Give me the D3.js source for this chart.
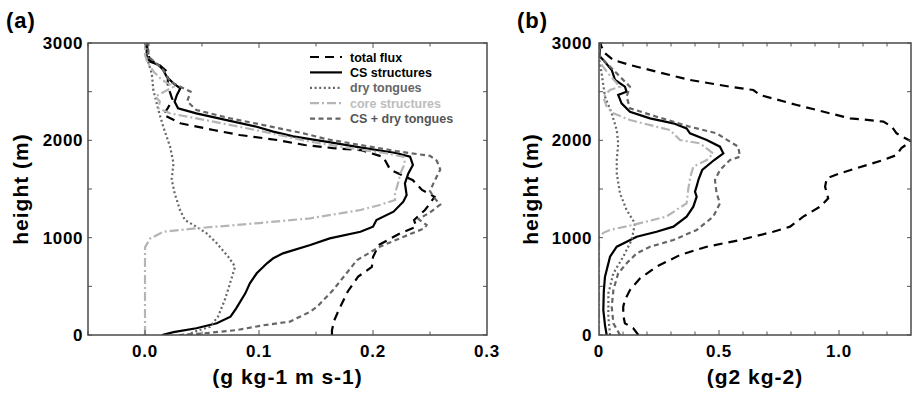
<!DOCTYPE html>
<html>
<head>
<meta charset="utf-8">
<script src="https://cdn.jsdelivr.net/npm/d3@7"></script>
<style>
  body { margin: 0; background: #fff; }
  text { font-family: "Liberation Sans", Arial, sans-serif; font-weight: bold; }
</style>
</head>
<body>
<div id="chart"></div>
<script>
// series names (legend order)
var seriesNames = ["total flux", "CS structures", "dry tongues", "core structures", "CS + dry tongues"];

// panel (a): [flux, height]
var totalA = [[0.164,0],[0.164,50],[0.166,150],[0.170,257],[0.178,450],[0.187,600],[0.199,700],[0.200,800],[0.205,925],[0.224,1045],[0.238,1113],[0.236,1181],[0.2456,1284],[0.25,1353],[0.254,1420],[0.243,1490],[0.235,1590],[0.215,1700],[0.209,1830],[0.189,1900],[0.165,1920],[0.140,1952],[0.116,2003],[0.083,2055],[0.060,2106],[0.031,2175],[0.016,2265],[0.020,2330],[0.024,2420],[0.020,2560],[0.020,2700],[0.012,2780],[0.004,2830],[0.002,2950],[0.002,3000]];
var csA = [[0.015,0],[0.025,30],[0.045,69],[0.063,120],[0.075,188],[0.080,274],[0.088,428],[0.092,531],[0.098,634],[0.107,737],[0.1125,788],[0.121,839],[0.145,925],[0.162,993],[0.189,1061],[0.200,1113],[0.203,1181],[0.218,1267],[0.2266,1370],[0.2295,1438],[0.228,1558],[0.231,1660],[0.235,1747],[0.2325,1832],[0.22,1870],[0.19,1925],[0.16,1985],[0.13,2040],[0.1125,2090],[0.098,2140],[0.0746,2200],[0.045,2277],[0.029,2329],[0.026,2397],[0.028,2466],[0.031,2534],[0.025,2586],[0.019,2654],[0.016,2723],[0.012,2774],[0.0044,2808],[0.0015,2860],[0.0015,3000]];
var dryA = [[0.0366,0],[0.045,40],[0.057,85],[0.064,188],[0.070,360],[0.0746,531],[0.079,702],[0.073,805],[0.063,942],[0.054,1045],[0.045,1113],[0.035,1181],[0.0307,1284],[0.026,1456],[0.0234,1600],[0.025,1764],[0.022,1935],[0.016,2140],[0.0117,2312],[0.0073,2517],[0.006,2680],[0.003,2800],[0.001,3000]];
var coreA = [[0,0],[0,900],[0.0044,990],[0.016,1060],[0.045,1096],[0.10,1150],[0.145,1199],[0.189,1284],[0.206,1336],[0.2193,1387],[0.2193,1456],[0.222,1560],[0.224,1660],[0.228,1764],[0.2266,1832],[0.21,1870],[0.18,1920],[0.145,1986],[0.104,2089],[0.06,2192],[0.022,2277],[0.0117,2329],[0.013,2400],[0.009,2450],[0.025,2550],[0.015,2620],[0.008,2700],[0.002,2800],[0,2880],[0,3000]];
var csDryA = [[0.03,0],[0.05,15],[0.08,50],[0.104,100],[0.127,137],[0.145,240],[0.151,291],[0.165,462],[0.186,770],[0.206,907],[0.227,1010],[0.245,1096],[0.247,1130],[0.240,1190],[0.250,1260],[0.259,1340],[0.253,1420],[0.250,1480],[0.253,1558],[0.259,1700],[0.256,1790],[0.250,1840],[0.22,1890],[0.189,1952],[0.16,2010],[0.139,2072],[0.104,2157],[0.0746,2226],[0.045,2312],[0.037,2400],[0.040,2500],[0.031,2551],[0.022,2603],[0.016,2723],[0.010,2791],[0.003,2860],[0.003,3000]];

// panel (b): [variance, height]
var totalB = [[0.164,0],[0.143,69],[0.108,120],[0.101,200],[0.101,291],[0.108,360],[0.129,462],[0.171,582],[0.240,702],[0.3375,822],[0.449,907],[0.5875,976],[0.726,1061],[0.796,1113],[0.851,1216],[0.921,1318],[0.955,1404],[0.942,1524],[0.949,1610],[1.004,1661],[1.185,1798],[1.24,1849],[1.26,1920],[1.30,1990],[1.27,2030],[1.24,2072],[1.22,2140],[1.185,2192],[1.10,2215],[1.046,2226],[0.824,2363],[0.671,2466],[0.643,2517],[0.546,2551],[0.379,2620],[0.240,2705],[0.129,2774],[0.06,2825],[0.025,2894],[0.011,2960],[0.005,3000]];
var csB = [[0.032,0],[0.025,100],[0.018,257],[0.020,450],[0.025,599],[0.046,805],[0.074,907],[0.157,1010],[0.24,1061],[0.31,1113],[0.365,1216],[0.393,1318],[0.407,1421],[0.400,1473],[0.407,1530],[0.415,1600],[0.43,1695],[0.48,1798],[0.518,1866],[0.504,1935],[0.449,2003],[0.379,2072],[0.365,2123],[0.31,2175],[0.2125,2226],[0.129,2294],[0.094,2380],[0.080,2466],[0.115,2500],[0.108,2551],[0.067,2620],[0.053,2723],[0.018,2825],[0.004,2860],[0.002,3000]];
var dryB = [[0.046,0],[0.039,188],[0.039,428],[0.06,634],[0.101,805],[0.136,976],[0.15,1147],[0.115,1284],[0.0875,1456],[0.074,1661],[0.074,1798],[0.08,1969],[0.074,2106],[0.053,2277],[0.025,2448],[0.011,2688],[0.004,2791],[0,2900],[0,3000]];
var coreB = [[0,0],[0,1000],[0.018,1050],[0.046,1079],[0.14,1130],[0.28,1216],[0.365,1353],[0.372,1500],[0.38,1620],[0.393,1729],[0.449,1798],[0.476,1866],[0.421,1969],[0.3375,2003],[0.296,2106],[0.24,2140],[0.129,2209],[0.06,2277],[0.032,2346],[0.018,2448],[0.046,2517],[0.0875,2551],[0.0375,2688],[0.01,2780],[0,2850],[0,3000]];
var csDryB = [[0.0875,0],[0.06,120],[0.053,291],[0.06,462],[0.08,634],[0.115,737],[0.157,839],[0.2125,907],[0.31,976],[0.407,1079],[0.476,1216],[0.504,1353],[0.49,1456],[0.483,1592],[0.504,1695],[0.546,1798],[0.5875,1832],[0.58,1935],[0.53,2010],[0.49,2072],[0.379,2140],[0.24,2243],[0.129,2329],[0.115,2448],[0.129,2551],[0.0875,2654],[0.06,2723],[0.018,2825],[0.003,2870],[0.003,3000]];

// tick labels
var heightTicks = [0, 1000, 2000, 3000];
var xTicksA = [0.0, 0.1, 0.2, 0.3];
var xTicksB = [0, 0.5, 1.0];

// line styles, same order as seriesNames
var styles = [
  { color: "#000", dash: "9,6", text: "#000" },
  { color: "#000", dash: null, text: "#000" },
  { color: "#666", dash: "2,2.6", text: "#666" },
  { color: "#b5b5b5", dash: "9,3,2,3", text: "#bdbdbd" },
  { color: "#666", dash: "5,3.5", text: "#555" }
];

var svg = d3
  .select("#chart")
  .append("svg")
  .attr("width", 918)
  .attr("height", 394);

var y = d3.scaleLinear().domain([0, 3000]).range([335, 43]);

function panel(opts) {
  var x = d3.scaleLinear().domain(opts.domain).range([opts.left, opts.right]);
  var g = svg.append("g");

  g.append("clipPath")
    .attr("id", "clip" + opts.id)
    .append("rect")
    .attr("x", opts.left)
    .attr("y", 43)
    .attr("width", opts.right - opts.left)
    .attr("height", 292);

  var line = d3
    .line()
    .x(d => x(d[0]))
    .y(d => y(d[1]));

  g.append("g")
    .attr("clip-path", "url(#clip" + opts.id + ")")
    .selectAll("path")
    .data(opts.series)
    .enter()
    .append("path")
    .attr("d", d => line(d))
    .attr("fill", "none")
    .attr("stroke", (d, i) => styles[i].color)
    .attr("stroke-width", 2.2)
    .attr("stroke-dasharray", (d, i) => styles[i].dash);

  // ticks, inside, on all four sides
  var tk = g.append("g").attr("stroke", "#555").attr("stroke-width", 1);
  opts.minor.forEach(function(v) {
    var len = opts.major.indexOf(v) >= 0 ? 5 : 3.5;
    tk.append("line").attr("x1", x(v)).attr("x2", x(v)).attr("y1", 335).attr("y2", 335 - len);
    tk.append("line").attr("x1", x(v)).attr("x2", x(v)).attr("y1", 43).attr("y2", 43 + len);
  });
  d3.range(0, 3001, 500).forEach(function(h) {
    tk.append("line").attr("x1", opts.left).attr("x2", opts.left + 4).attr("y1", y(h)).attr("y2", y(h));
    tk.append("line").attr("x1", opts.right).attr("x2", opts.right - 4).attr("y1", y(h)).attr("y2", y(h));
  });

  g.append("rect")
    .attr("x", opts.left)
    .attr("y", 43)
    .attr("width", opts.right - opts.left)
    .attr("height", 292)
    .attr("fill", "none")
    .attr("stroke", "#4a4a4a")
    .attr("stroke-width", 1.5);

  g.selectAll(".ylab")
    .data(heightTicks)
    .enter()
    .append("text")
    .attr("class", "ylab")
    .attr("x", opts.left - opts.ylabGap)
    .attr("y", d => y(d))
    .attr("dy", "0.36em")
    .style("text-anchor", "end")
    .style("font-size", "17px")
    .style("letter-spacing", "0.6px")
    .text(d => d);

  g.selectAll(".xlab")
    .data(opts.labels)
    .enter()
    .append("text")
    .attr("class", "xlab")
    .attr("x", d => x(d))
    .attr("y", 357)
    .style("text-anchor", "middle")
    .style("font-size", "17px")
    .style("letter-spacing", "0.8px")
    .text(d => opts.fmt(d));

  g.append("text")
    .attr("x", (opts.left + opts.right) / 2)
    .attr("y", 384)
    .style("text-anchor", "middle")
    .style("font-size", "21px")
    .style("letter-spacing", "1px")
    .text(opts.title);

  g.append("text")
    .attr("transform", "translate(" + opts.yTitleX + ",189) rotate(-90)")
    .style("text-anchor", "middle")
    .style("font-size", "21px")
    .style("letter-spacing", "1px")
    .text("height (m)");

  g.append("text")
    .attr("x", opts.tagX)
    .attr("y", 28)
    .style("font-size", "22px")
    .style("letter-spacing", "1px")
    .text(opts.tag);

  return x;
}

panel({
  id: "a",
  left: 88,
  right: 487,
  domain: [-0.05, 0.3],
  series: [totalA, csA, dryA, coreA, csDryA],
  minor: d3.range(-1, 6).map(i => i * 0.05),
  major: [0, 0.1, 0.2],
  labels: xTicksA,
  fmt: d3.format(".1f"),
  ylabGap: 5,
  title: "(g kg-1 m s-1)",
  yTitleX: 28,
  tag: "(a)",
  tagX: 6
});

panel({
  id: "b",
  left: 599,
  right: 911,
  domain: [0, 1.3],
  series: [totalB, csB, dryB, coreB, csDryB],
  minor: d3.range(1, 13).map(i => i / 10),
  major: [0.5, 1.0],
  labels: xTicksB,
  fmt: d => (d === 0 ? "0" : d3.format(".1f")(d)),
  ylabGap: 7,
  title: "(g2 kg-2)",
  yTitleX: 538,
  tag: "(b)",
  tagX: 517
});

// legend in panel (a)
var legend = svg
  .append("g")
  .selectAll(".leg")
  .data(seriesNames)
  .enter()
  .append("g")
  .attr("class", "leg")
  .attr("transform", (d, i) => "translate(0," + (57 + i * 15.4) + ")");

legend
  .append("line")
  .attr("x1", 310)
  .attr("x2", 342)
  .attr("stroke", (d, i) => styles[i].color)
  .attr("stroke-width", 2.2)
  .attr("stroke-dasharray", (d, i) => styles[i].dash);

legend
  .append("text")
  .attr("x", 350)
  .attr("dy", "0.36em")
  .style("font-size", "12.5px")
  .style("fill", (d, i) => styles[i].text)
  .text(d => d);
</script>
</body>
</html>
